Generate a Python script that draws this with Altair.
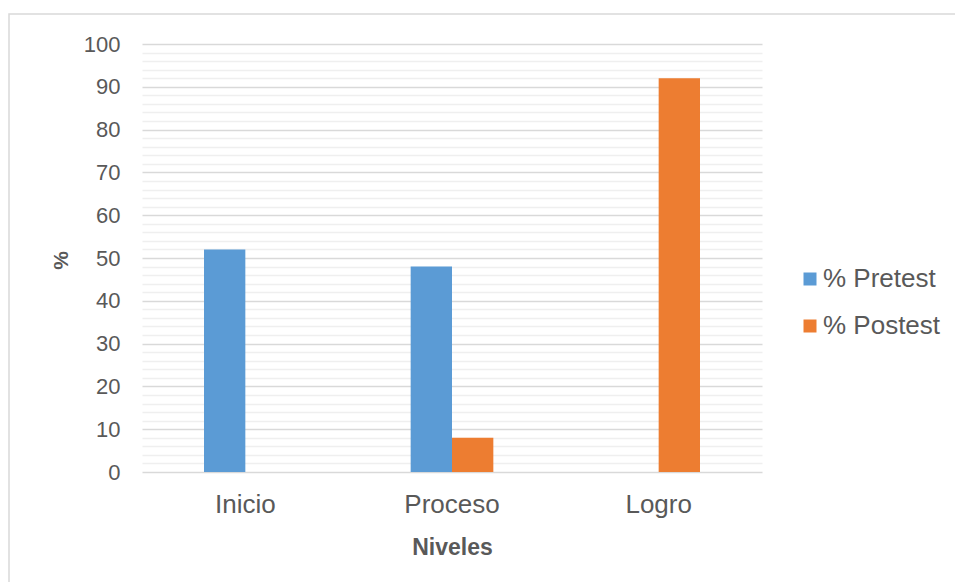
import altair as alt
import pandas as pd

niveles = ["Inicio", "Proceso", "Logro"]
series = ["% Pretest", "% Postest"]
pretest = [52, 48, 0]
postest = [0, 8, 92]
colors = ["#5B9BD5", "#ED7D31"]

rows = []
for nivel, pre, post in zip(niveles, pretest, postest):
    rows.append({"Nivel": nivel, "Serie": series[0], "Valor": pre})
    rows.append({"Nivel": nivel, "Serie": series[1], "Valor": post})
df = pd.DataFrame(rows)

TEXT = "#595959"
FONT = "Liberation Sans"

bars = alt.Chart(df).mark_bar().encode(
    x=alt.X(
        "Nivel:N",
        sort=niveles,
        scale=alt.Scale(paddingInner=0.6, paddingOuter=0.3),
        axis=alt.Axis(
            title="Niveles",
            labelAngle=0,
            labelFontSize=26,
            labelColor=TEXT,
            labelPadding=19,
            ticks=False,
            domain=False,
            grid=False,
            titleFontSize=23,
            titleFontWeight="bold",
            titleColor=TEXT,
            titlePadding=19,
        ),
    ),
    xOffset=alt.XOffset("Serie:N", sort=series),
    y=alt.Y(
        "Valor:Q",
        scale=alt.Scale(domain=[0, 100], nice=False),
        axis=alt.Axis(
            title="%",
            values=list(range(0, 101, 2)),
            labelExpr="datum.value % 10 === 0 ? datum.label : ''",
            labelFontSize=22,
            labelColor=TEXT,
            labelPadding=22,
            ticks=False,
            domain=False,
            grid=True,
            gridColor={
                "condition": {"test": "datum.value % 10 === 0", "value": "#D9D9D9"},
                "value": "#EFEFEF",
            },
            gridWidth=1.3,
            titleFontSize=21,
            titleFontWeight="bold",
            titleColor=TEXT,
            titleX=-81,
            titleY=216,
            titleAlign="center",
            titleBaseline="middle",
        ),
    ),
    color=alt.Color(
        "Serie:N",
        sort=series,
        scale=alt.Scale(domain=series, range=colors),
        legend=alt.Legend(
            title=None,
            orient="none",
            legendX=655,
            legendY=222,
            padding=0,
            symbolType="square",
            symbolSize=169,
            symbolStrokeWidth=0,
            labelFontSize=26,
            labelColor=TEXT,
            labelOffset=0,
            rowPadding=21,
        ),
    ),
)

# outer chart frame
frame = alt.Chart(pd.DataFrame({"k": [0]})).mark_rect(
    fill=None, stroke="#D9D9D9", strokeWidth=1.5
).encode(
    x=alt.value(-133), x2=alt.value(818), y=alt.value(-30), y2=alt.value(546)
)

chart = (
    alt.layer(frame, bars)
    .properties(
        width=620,
        height=428,
        autosize=alt.AutoSizeParams(type="none"),
        padding={"left": 142, "top": 44, "right": 193, "bottom": 110},
        background="white",
    )
    .configure(font=FONT)
    .configure_view(stroke="transparent", strokeWidth=0)
)

chart.save("out.html", embed_options={"renderer": "svg", "actions": False})
